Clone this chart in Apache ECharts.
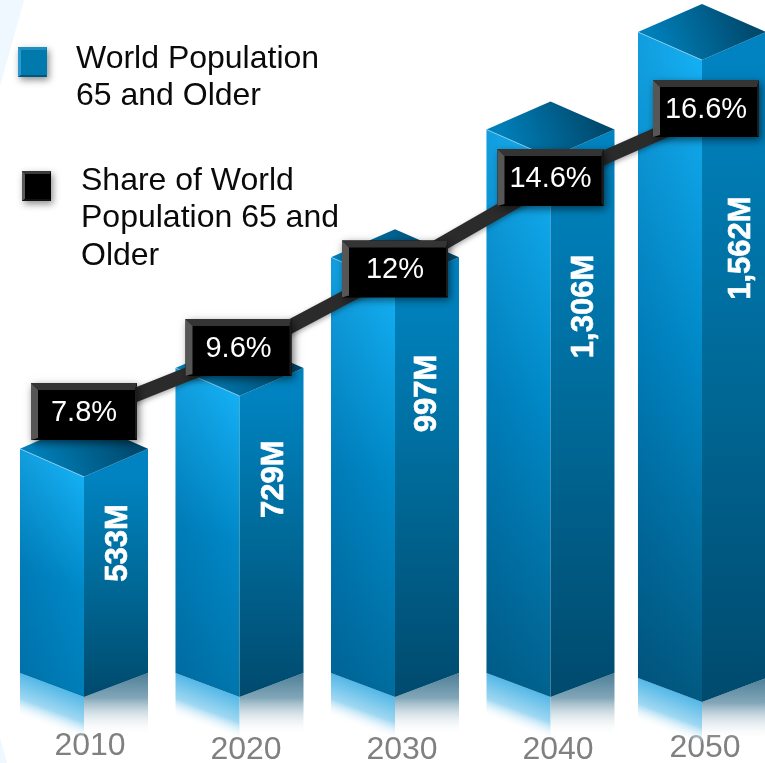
<!DOCTYPE html>
<html>
<head>
<meta charset="utf-8">
<style>html,body{margin:0;padding:0;background:#fff}#chart{width:765px;height:763px}</style>
<script src="https://cdn.jsdelivr.net/npm/echarts@6/dist/echarts.min.js"></script>
</head>
<body>
<div id="chart"></div>
<script>
// Ageing of the world population, 2010-2050
const years = ['2010', '2020', '2030', '2040', '2050'];
const population = [533, 729, 997, 1306, 1562];
const share = [7.8, 9.6, 12, 14.6, 16.6];
const populationName = 'World Population\n65 and Older';
const shareName = 'Share of World\nPopulation 65 and\nOlder';

// Hand placement of the columns, their labels and the year captions (px)
const columnNudge = [[0, 0], [0, 0], [0, 0], [0, 0], [-4, 5]];
const columnScale = [0.995, 0.995, 0.995, 0.995, 0.99];
const valueLabelAt = [[34, 0.30], [35, 0.277], [32, 0.263], [34, 0.276], [39, 0.293]];
const yearNudge = [[6, 0], [6.5, 4], [7, 4], [7.5, 4], [-1, 2]];
const boxNudge = [[0, 0], [-1, -2], [0, 2], [0, 0], [0, 0]];

const HALF_W = 64, TOP_DROP = 28, FOOT_RISE = 24;
const BOX_W = 106, BOX_H = 57, BOX_LIFT = 4;
const FONT = '"Liberation Sans", Arial, sans-serif';

function mix(a, b, t) {
  const p = c => [1, 3, 5].map(i => parseInt(c.substr(i, 2), 16));
  const A = p(a), B = p(b);
  return 'rgb(' + A.map((v, i) => Math.round(v + (B[i] - v) * t)).join(',') + ')';
}
function grad(x, y, x2, y2, stops) {
  return { type: 'linear', global: true, x, y, x2, y2,
    colorStops: stops.map(s => ({ offset: s[0], color: s[1] })) };
}
function poly(points, fill, extra) {
  return Object.assign({ type: 'polygon', shape: { points }, style: { fill } }, extra || {});
}

function renderColumn(params, api) {
  const i = api.value(0), v = api.value(1);
  const nudge = columnNudge[i];
  const top = api.coord([i, v]), base = api.coord([i, 0]);
  const cx = top[0] + nudge[0], yb = base[1] + nudge[1];
  const yt = yb - (base[1] - top[1]) * columnScale[i];
  const l = cx - HALF_W, r = cx + HALF_W;
  const h = yb - yt;
  const depth = Math.min(1, (h - 220) / 420);
  const leftBottom = mix('#007ab3', '#01587f', depth);
  const leftFace = [[l, yt - TOP_DROP], [cx, yt], [cx, yb], [l, yb - FOOT_RISE]];

  const children = [
    // reflections on the floor
    poly([[l, yb - FOOT_RISE], [cx, yb], [cx, yb + 41], [l, yb + 26]],
      grad(cx, yb - 2, cx - 15, yb + 38, [[0, '#4eb5e6'], [0.6, '#a0d8f2'], [1, 'rgba(255,255,255,0)']])),
    poly([[cx, yb], [r, yb - FOOT_RISE], [r, yb + 38], [cx, yb + 41]],
      grad(cx, yb - 24, cx, yb + 38, [[0, '#4d7f97'], [0.4, '#82a6b8'], [1, 'rgba(255,255,255,0)']])),
    // side faces, the left one also darkening towards its outer edge
    poly(leftFace, grad(cx, yt, l - 20, yb, [[0, '#14b0f4'], [0.45, '#0089c8'], [1, leftBottom]])),
    poly(leftFace, grad(cx, 0, l, 0, [[0, 'rgba(0,40,80,0)'], [1, 'rgba(0,40,80,0.14)']])),
    poly([[cx, yt], [r, yt - TOP_DROP], [r, yb - FOOT_RISE], [cx, yb]],
      grad(cx, yt, cx, yb, [[0, '#0083c0'], [0.5, '#006896'], [1, '#004a6d']])),
    // roof
    poly([[l, yt - TOP_DROP], [cx, yt - 2 * TOP_DROP], [r, yt - TOP_DROP], [cx, yt]],
      grad(l + 20, yt - 10, r - 20, yt - 2 * TOP_DROP + 10, [[0, '#007fb9'], [1, '#004a6e']])),
    { type: 'line', shape: { x1: l, y1: yt - TOP_DROP, x2: cx, y2: yt },
      style: { stroke: 'rgba(200,235,255,0.55)', lineWidth: 1 } },
    // value written up the right face
    { type: 'text', x: cx + valueLabelAt[i][0], y: yt + h * valueLabelAt[i][1], rotation: Math.PI / 2,
      style: { text: v.toLocaleString('en-US') + 'M', align: 'center', verticalAlign: 'middle',
        fill: '#fff', stroke: '#fff', lineWidth: 0.6, font: 'bold 31px ' + FONT } }
  ];
  return { type: 'group', children };
}

function renderBox(params, api) {
  const i = api.value(0), v = api.value(1);
  const pt = api.coord([i, v]);
  const cx = pt[0] + boxNudge[i][0], cy = pt[1] - BOX_LIFT + boxNudge[i][1];
  const l = cx - BOX_W / 2, r = cx + BOX_W / 2, t = cy - BOX_H / 2, b = cy + BOX_H / 2;
  const bevel = 7, thin = 2;
  return { type: 'group', children: [
    { type: 'rect', shape: { x: l, y: t, width: BOX_W, height: BOX_H },
      style: { fill: '#000', shadowBlur: 8, shadowColor: 'rgba(0,0,0,0.55)', shadowOffsetX: 2, shadowOffsetY: 3 } },
    poly([[l, t], [r, t], [r - thin, t + bevel], [l + bevel, t + bevel]], '#343434'),
    poly([[l, t], [l + bevel, t + bevel], [l + bevel, b - thin], [l, b]], '#565656'),
    poly([[r, t], [r, b], [r - thin, b - thin], [r - thin, t + bevel]], '#1c1c1c'),
    { type: 'text', x: cx, y: cy + 1.5,
      style: { text: v + '%', align: 'center', verticalAlign: 'middle', fill: '#fff', font: '29px ' + FONT } }
  ] };
}

const yearRich = {};
years.forEach((y, i) => {
  yearRich['y' + i] = { color: '#808080', fontSize: 32, fontFamily: FONT,
    padding: [yearNudge[i][1], yearNudge[i][0] < 0 ? -2 * yearNudge[i][0] : 0, 0, yearNudge[i][0] > 0 ? 2 * yearNudge[i][0] : 0] };
});

function swatch(x, y, size, face, light, side, lower) {
  const b = 3;
  return [
    { type: 'rect', shape: { x, y, width: size, height: size + 1 },
      style: { fill: face, shadowBlur: 7, shadowColor: 'rgba(0,0,0,0.45)', shadowOffsetX: 2, shadowOffsetY: 3 } },
    { type: 'polygon', shape: { points: [[x, y], [x + size, y], [x + size - 1, y + b], [x + b, y + b]] }, style: { fill: light } },
    { type: 'polygon', shape: { points: [[x, y], [x + b, y + b], [x + b, y + size - 1], [x, y + size + 1]] }, style: { fill: side } },
    { type: 'polygon', shape: { points: [[x, y + size + 1], [x + size, y + size + 1], [x + size - 1, y + size - 1], [x + b, y + size - 1]] }, style: { fill: lower } }
  ];
}
function legendText(x, y, text) {
  return { type: 'text', x, y, style: { text, font: '32px ' + FONT, fill: '#0a0a0a', lineHeight: 37.5, verticalAlign: 'top', align: 'left' } };
}

const chart = echarts.init(document.getElementById('chart'), null, { renderer: 'canvas' });
chart.setOption({
  animation: false,
  backgroundColor: '#ffffff',
  grid: [
    { left: 84, width: 622, top: 0, height: 697, outerBoundsMode: 'none' },
    { left: 84, width: 622, top: 0, height: 684, outerBoundsMode: 'none' }
  ],
  xAxis: [
    { type: 'category', gridIndex: 0, data: years, boundaryGap: false,
      axisLine: { show: false }, axisTick: { show: false }, splitLine: { show: false },
      axisLabel: { interval: 0, margin: 33, hideOverlap: false, showMinLabel: true, showMaxLabel: true,
        formatter: (value, i) => '{y' + i + '|' + value + '}', rich: yearRich } },
    { type: 'category', gridIndex: 1, data: years, boundaryGap: false, show: false }
  ],
  yAxis: [
    { type: 'value', gridIndex: 0, min: 0, max: 1679, show: false, splitLine: { show: false } },
    { type: 'value', gridIndex: 1, min: 0, max: 19.87, show: false, splitLine: { show: false } }
  ],
  graphic: { elements: [
    { type: 'polygon', z: -1, shape: { points: [[0, 0], [24, 0], [0, 86]] }, style: { fill: '#eef8fe' } },
    { type: 'polygon', z: -1, shape: { points: [[0, 738], [7, 763], [0, 763]] }, style: { fill: '#eef8fe' } },
    ...swatch(18, 47, 29, '#0079ad', '#1f8fc0', '#2c9ad0', '#00577d'),
    ...swatch(22, 171, 29, '#000000', '#3a3a3a', '#5a5a5a', '#111111'),
    legendText(76, 40, populationName),
    legendText(81, 162, shareName)
  ] },
  series: [
    { name: populationName, type: 'custom', xAxisIndex: 0, yAxisIndex: 0, z: 2, clip: false,
      data: population.map((v, i) => [i, v]), renderItem: renderColumn },
    { name: shareName, type: 'line', xAxisIndex: 1, yAxisIndex: 1, z: 3, symbol: 'none', silent: true,
      data: share.map((v, i) => [i, v]),
      lineStyle: { color: '#2b2b2b', width: 14, cap: 'butt', shadowBlur: 5, shadowColor: 'rgba(0,0,0,0.35)', shadowOffsetY: 2 } },
    { name: shareName + ' labels', type: 'custom', xAxisIndex: 1, yAxisIndex: 1, z: 4, clip: false,
      data: share.map((v, i) => [i, v]), renderItem: renderBox }
  ]
});
</script>
</body>
</html>
